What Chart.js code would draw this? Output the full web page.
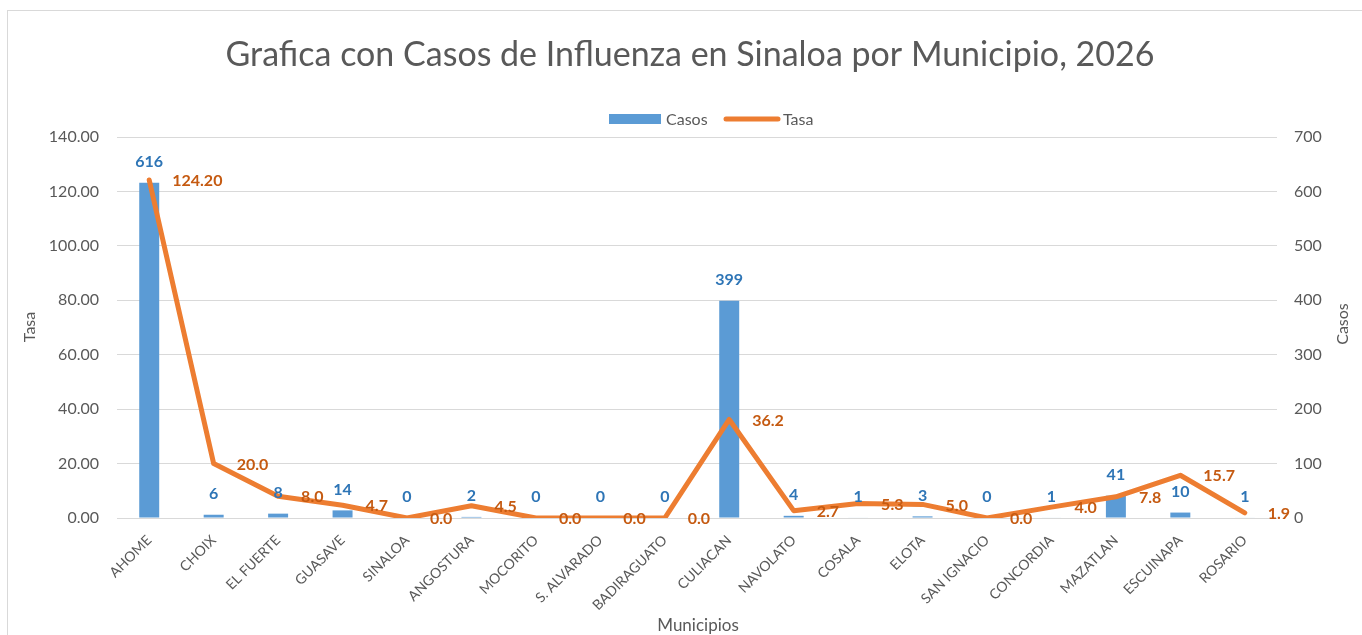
<!DOCTYPE html>
<html>
<head>
<meta charset="utf-8">
<script src="https://cdn.jsdelivr.net/npm/chart.js@4.4.1/dist/chart.umd.min.js"></script>
<style>
html, body { margin: 0; padding: 0; background: #fff; }
</style>
</head>
<body>
<canvas id="grafica" width="1362" height="635"></canvas>
<script>
var municipios = ['AHOME', 'CHOIX', 'EL FUERTE', 'GUASAVE', 'SINALOA', 'ANGOSTURA', 'MOCORITO',
    'S. ALVARADO', 'BADIRAGUATO', 'CULIACAN', 'NAVOLATO', 'COSALA', 'ELOTA', 'SAN IGNACIO',
    'CONCORDIA', 'MAZATLAN', 'ESCUINAPA', 'ROSARIO'];
var casos = [616, 6, 8, 14, 0, 2, 0, 0, 0, 399, 4, 1, 3, 0, 1, 41, 10, 1];
var tasa = [124.20, 20.0, 8.0, 4.7, 0.0, 4.5, 0.0, 0.0, 0.0, 36.2, 2.7, 5.3, 5.0, 0.0, 4.0, 7.8, 15.7, 1.9];

var titulo = 'Grafica con Casos de Influenza en Sinaloa por Municipio, 2026';
var fuente = 'Lato, "Open Sans", sans-serif';
var gris = '#595959';
var azul = '#5B9BD5';
var naranja = '#ED7D31';

// marco, titulo, leyenda y titulos de ejes (estilo Excel)
var marcoPlugin = {
    id: 'marco',
    beforeDraw: function(chart) {
        var ctx = chart.ctx;
        ctx.save();
        ctx.fillStyle = '#fff';
        ctx.fillRect(0, 0, chart.width, chart.height);
        ctx.strokeStyle = '#D9D9D9';
        ctx.lineWidth = 1;
        ctx.strokeRect(7.5, 10.5, chart.width, chart.height);
        ctx.restore();
    },
    afterDraw: function(chart) {
        var ctx = chart.ctx;
        ctx.save();
        ctx.fillStyle = gris;
        ctx.textBaseline = 'alphabetic';
        ctx.textAlign = 'center';
        ctx.font = '34px ' + fuente;
        ctx.fillText(titulo, 690, 66);

        // leyenda
        ctx.fillStyle = azul;
        ctx.fillRect(609, 114, 52, 10);
        ctx.fillStyle = gris;
        ctx.font = '16px ' + fuente;
        ctx.textAlign = 'left';
        ctx.textBaseline = 'middle';
        ctx.fillText('Casos', 666, 120);
        ctx.strokeStyle = naranja;
        ctx.lineWidth = 5;
        ctx.lineCap = 'round';
        ctx.beginPath();
        ctx.moveTo(726, 119);
        ctx.lineTo(778, 119);
        ctx.stroke();
        ctx.fillText('Tasa', 783, 120);

        // titulos de ejes
        ctx.textAlign = 'center';
        ctx.font = '17px ' + fuente;
        ctx.textBaseline = 'alphabetic';
        ctx.fillText('Municipios', 698, 631);
        ctx.font = '16px ' + fuente;
        ctx.textBaseline = 'middle';
        ctx.translate(30, 327);
        ctx.rotate(-Math.PI / 2);
        ctx.fillText('Tasa', 0, 0);
        ctx.rotate(Math.PI / 2);
        ctx.translate(1343 - 30, -3);
        ctx.rotate(-Math.PI / 2);
        ctx.fillText('Casos', 0, 0);
        ctx.restore();
    }
};

// etiquetas de datos
var etiquetasPlugin = {
    id: 'etiquetas',
    afterDatasetsDraw: function(chart) {
        var ctx = chart.ctx;
        ctx.save();
        ctx.font = 'bold 16px ' + fuente;
        ctx.textBaseline = 'middle';

        var barras = chart.getDatasetMeta(0).data;
        ctx.fillStyle = '#2E75B6';
        ctx.textAlign = 'center';
        barras.forEach(function(bar, i) {
            ctx.fillText(String(casos[i]), bar.x, bar.y - 21);
        });

        var puntos = chart.getDatasetMeta(1).data;
        ctx.fillStyle = '#C55A11';
        ctx.textAlign = 'left';
        puntos.forEach(function(p, i) {
            var txt = tasa[i].toFixed(i === 0 ? 2 : 1);
            ctx.fillText(txt, p.x + 23, p.y + 1);
        });
        ctx.restore();
    }
};

var ctx = document.getElementById('grafica').getContext('2d');
var chart = new Chart(ctx, {
    type: 'bar',
    data: {
        labels: municipios,
        datasets: [{
            label: 'Casos',
            data: casos,
            yAxisID: 'y1',
            backgroundColor: azul,
            categoryPercentage: 1,
            barPercentage: 0.31,
            order: 1
        }, {
            type: 'line',
            label: 'Tasa',
            data: tasa,
            yAxisID: 'y',
            borderColor: naranja,
            borderWidth: 5,
            borderJoinStyle: 'round',
            borderCapStyle: 'round',
            pointRadius: 0,
            tension: 0,
            order: 0
        }]
    },
    options: {
        responsive: false,
        animation: false,
        layout: {
            padding: { top: 137, left: 0, right: 0, bottom: 0 }
        },
        plugins: {
            legend: { display: false },
            title: { display: false },
            tooltip: { enabled: false }
        },
        scales: {
            x: {
                grid: { display: false },
                border: { display: false },
                ticks: {
                    autoSkip: false,
                    minRotation: 45,
                    maxRotation: 45,
                    padding: 6,
                    color: gris,
                    font: { family: fuente, size: 14 }
                },
                afterFit: function(scale) { scale.height = 117; }
            },
            y: {
                position: 'left',
                min: 0,
                max: 140,
                ticks: {
                    stepSize: 20,
                    padding: 18,
                    color: gris,
                    font: { family: fuente, size: 16 },
                    callback: function(value) {
                        return value.toFixed(2);
                    }
                },
                grid: { color: '#D9D9D9', lineWidth: 1, drawTicks: false },
                border: { display: false },
                afterFit: function(scale) { scale.width = 117; }
            },
            y1: {
                position: 'right',
                min: 0,
                max: 700,
                ticks: {
                    stepSize: 100,
                    padding: 17,
                    color: gris,
                    font: { family: fuente, size: 16 }
                },
                grid: { drawOnChartArea: false, drawTicks: false },
                border: { display: false },
                afterFit: function(scale) { scale.width = 85; }
            }
        }
    },
    plugins: [marcoPlugin, etiquetasPlugin]
});
</script>
</body>
</html>
